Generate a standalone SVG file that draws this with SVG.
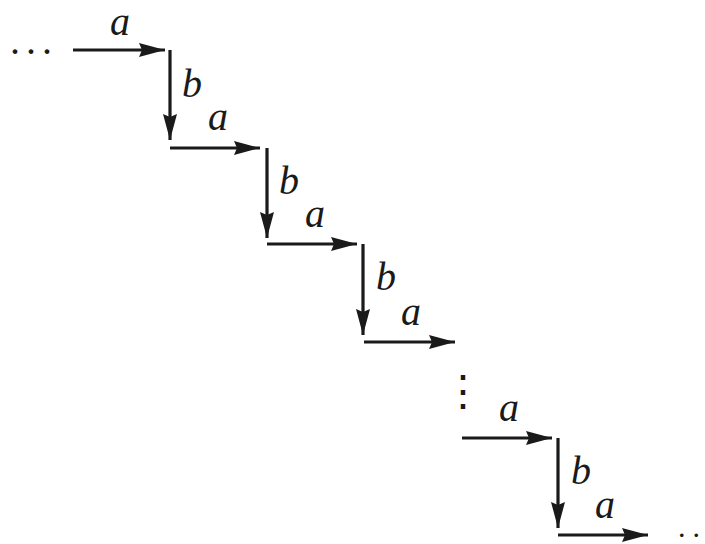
<svg xmlns="http://www.w3.org/2000/svg" width="705" height="544" viewBox="0 0 705 544">
<defs>
<marker id="ah" markerWidth="26" markerHeight="14" refX="26" refY="7" orient="auto" markerUnits="userSpaceOnUse">
<path d="M0,0 L26,7 L0,14 L3,7 Z" fill="#1a1a1a"/>
</marker>
<style>
.c{stroke:#1a1a1a;stroke-width:3.2;fill:none;marker-end:url(#ah)}
.l{font-family:"Liberation Serif","Times New Roman",serif;font-style:italic;font-size:40px;fill:#1a1a1a}
.d{font-family:"Liberation Serif","Times New Roman",serif;font-size:40px;fill:#1a1a1a}
.v{font-family:"DejaVu Serif",serif;font-size:42px;fill:#1a1a1a}
</style>
</defs>
<rect width="705" height="544" fill="#fff"/>
<g id="connectors">
<path class="c" d="M73,50 H165"/>
<path class="c" d="M170,50 V140"/>
<path class="c" d="M170,148 H260"/>
<path class="c" d="M267,148 V238"/>
<path class="c" d="M267,244 H357"/>
<path class="c" d="M363,244 V335"/>
<path class="c" d="M364,342 H455"/>
<path class="c" d="M462,438 H552"/>
<path class="c" d="M558,438 V528"/>
<path class="c" d="M558,535 H648"/>
</g>
<g id="labels">
<text class="l" x="120" y="35" text-anchor="middle">a</text>
<text class="l" x="182" y="97">b</text>
<text class="l" x="218" y="130" text-anchor="middle">a</text>
<text class="l" x="279" y="194">b</text>
<text class="l" x="315" y="227" text-anchor="middle">a</text>
<text class="l" x="376" y="290">b</text>
<text class="l" x="411" y="325" text-anchor="middle">a</text>
<text class="l" x="509" y="421" text-anchor="middle">a</text>
<text class="l" x="571" y="484">b</text>
<text class="l" x="605" y="518" text-anchor="middle">a</text>
</g>
<g id="dots">
<text class="d" x="10" y="54" letter-spacing="6">...</text>
<text class="v" x="463" y="405" text-anchor="middle">⋮</text>
<text class="d" x="678" y="537" style="font-size:30px"><tspan letter-spacing="7">.</tspan>.</text>
</g>
</svg>
